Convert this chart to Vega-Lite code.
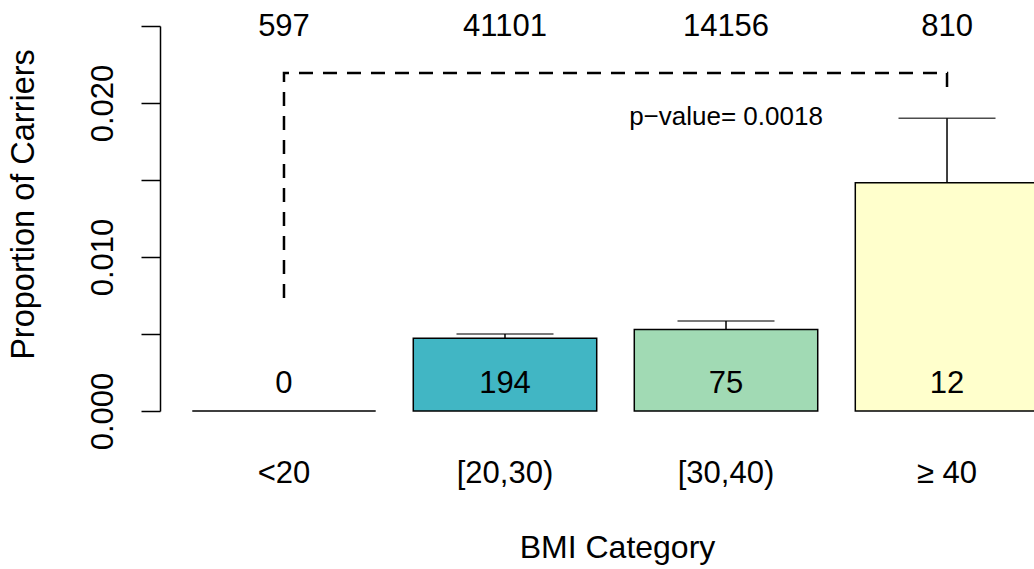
{
  "$schema": "https://vega.github.io/schema/vega-lite/v6.json",
  "width": 874,
  "height": 385,
  "autosize": {"type": "none"},
  "padding": {"left": 160, "top": 26, "right": 0, "bottom": 158},
  "background": "white",
  "config": {
    "font": "Liberation Sans",
    "view": {"stroke": null},
    "axis": {"labelColor": "black", "titleColor": "black", "titleFontWeight": "normal", "grid": false}
  },
  "datasets": {
    "bars": [
      {"cat": "<20", "n": 597, "carriers": 0, "prop": 0, "upper": null},
      {"cat": "[20,30)", "n": 41101, "carriers": 194, "prop": 0.00472, "upper": 0.0050},
      {"cat": "[30,40)", "n": 14156, "carriers": 75, "prop": 0.005298, "upper": 0.00584},
      {"cat": "≥ 40", "n": 810, "carriers": 12, "prop": 0.014815, "upper": 0.01901}
    ],
    "bracket": [
      {"cat": "<20", "y": 0.00734, "o": 1},
      {"cat": "<20", "y": 0.02195, "o": 2},
      {"cat": "≥ 40", "y": 0.02195, "o": 3},
      {"cat": "≥ 40", "y": 0.0208, "o": 4}
    ],
    "note": [
      {"cat": "[30,40)", "y": 0.01857, "label": "p−value= 0.0018"}
    ]
  },
  "data": {"name": "bars"},
  "encoding": {
    "x": {
      "field": "cat", "type": "nominal",
      "scale": {"domain": ["<20", "[20,30)", "[30,40)", "≥ 40"], "range": [0, 911], "paddingInner": 0.17, "paddingOuter": 0.146},
      "axis": {
        "orient": "bottom", "domain": false, "ticks": false, "tickSize": 0,
        "labelAngle": 0, "labelFontSize": 31, "labelPadding": 71, "labelBaseline": "alphabetic",
        "title": "BMI Category", "titleFontSize": 32, "titleX": 457, "titleY": 146,
        "titleBaseline": "alphabetic", "titleAlign": "center", "titleAnchor": null
      }
    }
  },
  "layer": [
    {
      "mark": {"type": "bar", "stroke": "black", "strokeWidth": 1.5},
      "encoding": {
        "y": {
          "field": "prop", "type": "quantitative",
          "scale": {"domain": [0, 0.025], "nice": false, "zero": true},
          "axis": {
            "values": [0, 0.005, 0.01, 0.015, 0.02, 0.025],
            "labelExpr": "round(datum.value * 1000) % 10 === 0 ? format(datum.value, '.3f') : ''",
            "labelAngle": 270, "labelAlign": "center", "labelBaseline": "alphabetic",
            "labelFontSize": 31, "labelPadding": 29, "labelOverlap": false, "labelBound": false,
            "tickSize": 19, "tickColor": "black", "tickWidth": 1.5,
            "domainColor": "black", "domainWidth": 1.5,
            "title": "Proportion of Carriers", "titleFontSize": 32.5, "titleAngle": 270,
            "titleX": -127, "titleY": 178, "titleAlign": "center", "titleBaseline": "alphabetic", "titleAnchor": null
          }
        },
        "color": {
          "field": "cat", "type": "nominal",
          "scale": {"domain": ["<20", "[20,30)", "[30,40)", "≥ 40"], "range": ["#225EA8", "#41B6C4", "#A1DAB4", "#FFFFCC"]},
          "legend": null
        }
      }
    },
    {
      "transform": [{"filter": "datum.upper != null"}],
      "mark": {"type": "rule", "color": "black", "strokeWidth": 1.5},
      "encoding": {
        "y": {"field": "prop", "type": "quantitative"},
        "y2": {"field": "upper"}
      }
    },
    {
      "transform": [{"filter": "datum.upper != null"}],
      "mark": {"type": "tick", "color": "black", "thickness": 1.5, "size": 97, "orient": "horizontal"},
      "encoding": {
        "y": {"field": "upper", "type": "quantitative"}
      }
    },
    {
      "mark": {"type": "text", "fontSize": 31, "baseline": "alphabetic", "color": "black"},
      "encoding": {
        "y": {"datum": 0.00117},
        "text": {"field": "carriers", "type": "quantitative"}
      }
    },
    {
      "mark": {"type": "text", "fontSize": 31, "baseline": "alphabetic", "color": "black"},
      "encoding": {
        "y": {"datum": 0.02435},
        "text": {"field": "n", "type": "quantitative", "format": "d"}
      }
    },
    {
      "data": {"name": "bracket"},
      "mark": {"type": "line", "color": "black", "strokeWidth": 2.5, "strokeDash": [14, 10]},
      "encoding": {
        "y": {"field": "y", "type": "quantitative"},
        "order": {"field": "o", "type": "quantitative"}
      }
    },
    {
      "data": {"name": "note"},
      "mark": {"type": "text", "fontSize": 26, "baseline": "alphabetic", "color": "black"},
      "encoding": {
        "y": {"field": "y", "type": "quantitative"},
        "text": {"field": "label", "type": "nominal"}
      }
    }
  ]
}
